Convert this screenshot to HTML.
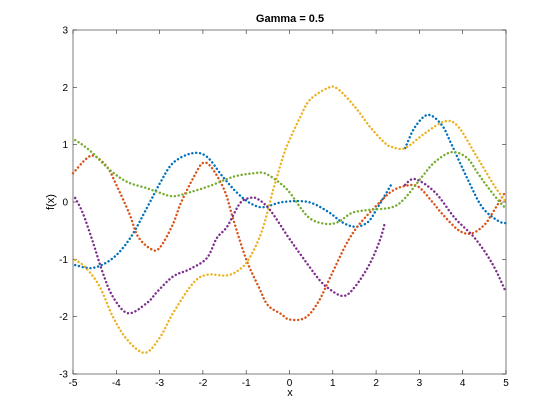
<!DOCTYPE html>
<html><head><meta charset="utf-8"><style>
body{margin:0;background:#fff;}
svg{display:block;font-family:"Liberation Sans",sans-serif;}
</style></head><body>
<svg id="chart" width="560" height="420" viewBox="0 0 560 420">
<rect x="0" y="0" width="560" height="420" fill="#fff"/>
<text x="290" y="22" text-anchor="middle" font-size="11" font-weight="bold">Gamma = 0.5</text>
<g id="axes"></g>
<g id="series"></g>
<text x="290" y="396" text-anchor="middle" font-size="11">x</text>
<text transform="translate(54,202) rotate(-90)" text-anchor="middle" font-size="11">f(x)</text>
</svg>
<script>
const xTicks=[-5,-4,-3,-2,-1,0,1,2,3,4,5];
const yTicks=[-3,-2,-1,0,1,2,3];
const blueX=[-4.95,-4.54,-4.08,-3.68,-3.29,-2.99,-2.69,-2.25,-1.91,-1.54,-1.21,-0.91,-0.61,-0.15,0.43,0.89,1.21,1.51,1.81,2.04,2.37,null,2.67,2.9,3.2,3.52,3.75,4.1,4.45,4.82,5.0];
const blueY=[-1.1,-1.15,-0.98,-0.63,-0.1,0.33,0.68,0.85,0.79,0.44,0.16,-0.02,-0.09,0,0,-0.17,-0.35,-0.43,-0.35,-0.09,0.33,null,0.94,1.31,1.52,1.34,0.99,0.42,-0.09,-0.33,-0.37];
const orangeX=[-5,-4.7,-4.5,-4.2,-4,-3.7,-3.5,-3.2,-3,-2.7,-2.5,-2.2,-2,-1.8,-1.5,-1.3,-1,-0.7,-0.5,-0.2,0,0.36,0.66,0.95,1.3,1.6,2.09,2.37,2.67,2.97,3.3,3.52,3.9,4.2,4.5,4.68,4.98];
const orangeY=[0.5,0.75,0.8,0.6,0.3,-0.2,-0.6,-0.82,-0.8,-0.4,0,0.45,0.68,0.6,0.2,-0.3,-1.0,-1.5,-1.8,-1.95,-2.05,-2.02,-1.75,-1.3,-0.75,-0.4,0,0.19,0.28,0.27,0.0,-0.2,-0.49,-0.55,-0.4,-0.2,0.17];
const yellowX=[-4.95,-4.7,-4.38,-4.08,-3.75,-3.34,-2.99,-2.69,-2.23,-1.91,-1.44,-1.14,-0.91,-0.63,-0.38,-0.15,-0.03,0.24,0.47,0.89,1.12,1.51,1.86,2.2,2.37,2.67,3.13,3.6,3.9,4.28,4.51,4.75,5.0];
const yellowY=[-1.01,-1.15,-1.48,-2.0,-2.4,-2.63,-2.36,-1.94,-1.42,-1.27,-1.28,-1.17,-0.96,-0.49,0.2,0.79,1.03,1.47,1.78,1.99,1.97,1.66,1.31,1.03,0.96,0.94,1.2,1.41,1.31,0.85,0.56,0.26,0.0];
const purpleX=[-4.95,-4.77,-4.54,-4.31,-4.08,-3.73,-3.29,-3.06,-2.69,-2.3,-1.91,-1.68,-1.44,-1.14,-0.91,-0.73,-0.45,-0.03,0.24,0.66,0.89,1.24,1.51,1.86,2.09,2.2,null,2.67,2.9,3.36,3.82,4.28,4.68,4.98];
const purpleY=[0.07,-0.2,-0.7,-1.24,-1.65,-1.94,-1.76,-1.57,-1.3,-1.17,-0.98,-0.63,-0.43,-0.02,0.07,0.05,-0.14,-0.61,-0.9,-1.33,-1.5,-1.64,-1.48,-1.07,-0.66,-0.37,null,0.3,0.4,0.17,-0.28,-0.63,-1.07,-1.54];
const greenX=[-4.95,-4.77,-4.54,-4.15,-3.75,-3.29,-2.99,-2.69,-2.3,-1.84,-1.3,-0.84,-0.57,-0.22,0.01,0.43,0.82,1.12,1.44,1.81,2.37,2.67,3.06,3.36,3.75,4.1,4.35,4.58,4.82,4.98];
const greenY=[1.08,0.99,0.85,0.56,0.35,0.24,0.16,0.1,0.17,0.28,0.44,0.5,0.5,0.33,0.16,-0.26,-0.38,-0.35,-0.19,-0.14,-0.09,0.07,0.44,0.7,0.87,0.77,0.5,0.26,0.03,-0.1];
const L=73,R=506,T=30,B=374;
const sx=v=>L+(v+5)/10*(R-L);
const sy=v=>B-(v+3)/6*(B-T);
const NS="http://www.w3.org/2000/svg";
const ax=document.getElementById('axes');
function mk(t,a,p){const e=document.createElementNS(NS,t);for(const k in a)e.setAttribute(k,a[k]);p.appendChild(e);return e;}
const box=mk('rect',{x:L,y:T,width:R-L,height:B-T,fill:'none',stroke:'#262626','stroke-width':0.6},ax);


xTicks.forEach(v=>{
 const x=sx(v);
 const t1=mk('line',{x1:x,x2:x,y1:B,y2:B-4,stroke:'#262626','stroke-width':0.6},ax);
 
 
 const t2=mk('line',{x1:x,x2:x,y1:T,y2:T+4,stroke:'#262626','stroke-width':0.6},ax);
 
 
 const tx=mk('text',{x:x,y:B+12,'text-anchor':'middle','font-size':10},ax);tx.textContent=v;
 
 
});
yTicks.forEach(v=>{
 const y=sy(v);
 const t1=mk('line',{x1:L,x2:L+4,y1:y,y2:y,stroke:'#262626','stroke-width':0.6},ax);
 
 
 const t2=mk('line',{x1:R,x2:R-4,y1:y,y2:y,stroke:'#262626','stroke-width':0.6},ax);
 
 
 const tx=mk('text',{x:L-5,y:y+3.5,'text-anchor':'end','font-size':10},ax);tx.textContent=v;
 
 
});
const sg=document.getElementById('series');
function segPath(pts){
 if(pts.length<2)return '';
 let d='M'+pts[0][0].toFixed(1)+' '+pts[0][1].toFixed(1);
 for(let i=0;i<pts.length-1;i++){
  const p0=pts[Math.max(0,i-1)],p1=pts[i],p2=pts[i+1],p3=pts[Math.min(pts.length-1,i+2)];
  const c1=[p1[0]+(p2[0]-p0[0])/6,p1[1]+(p2[1]-p0[1])/6];
  const c2=[p2[0]-(p3[0]-p1[0])/6,p2[1]-(p3[1]-p1[1])/6];
  d+=' C'+c1[0].toFixed(1)+' '+c1[1].toFixed(1)+' '+c2[0].toFixed(1)+' '+c2[1].toFixed(1)+' '+p2[0].toFixed(1)+' '+p2[1].toFixed(1);
 }
 return d;
}
function draw(xs,ys,color,name){
 let d='',seg=[];
 xs.forEach((x,i)=>{
  if(x===null||ys[i]===null){d+=segPath(seg);seg=[];return;}
  seg.push([sx(x),sy(ys[i])]);
 });
 d+=segPath(seg);
 const p=mk('path',{d:d,fill:'none',stroke:color,'stroke-width':2.4,'stroke-linecap':'round','stroke-dasharray':'0.1 3.8'},sg);
 
 
}
draw(blueX,blueY,'#0072BD','series-blue');
draw(orangeX,orangeY,'#D95319','series-orange');
draw(yellowX,yellowY,'#EDB120','series-yellow');
draw(purpleX,purpleY,'#7E2F8E','series-purple');
draw(greenX,greenY,'#77AC30','series-green');
</script>
</body></html>
